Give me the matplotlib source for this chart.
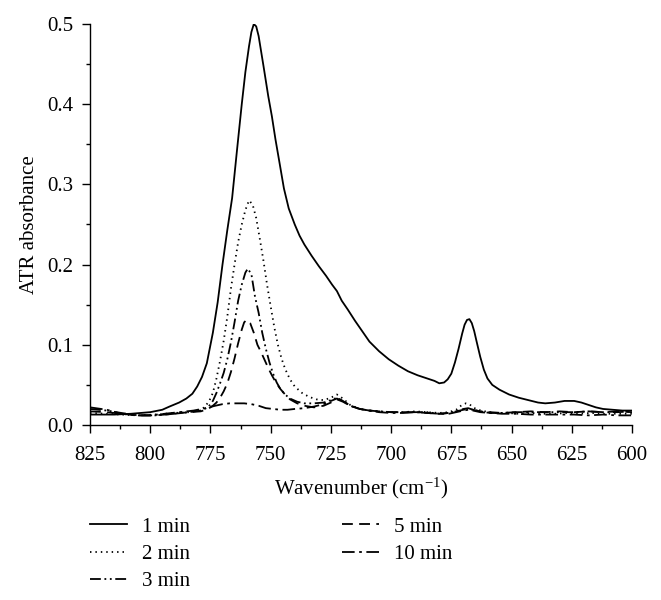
import matplotlib
matplotlib.use("Agg")
import matplotlib.pyplot as plt
import numpy as np
from matplotlib.ticker import MultipleLocator

plt.rcParams["font.family"] = "Liberation Serif"
plt.rcParams["mathtext.fontset"] = "custom"
plt.rcParams["mathtext.rm"] = "Liberation Serif"
plt.rcParams["mathtext.it"] = "Liberation Serif:italic"

# ── Spectra: (wavenumber cm-1, ATR absorbance) ──────────────────────────
spec_1min = [
    (825, 0.013), (815, 0.013), (808, 0.014), (800, 0.016), (795, 0.019),
    (792, 0.023), (788, 0.028), (785, 0.033), (782.5, 0.039), (780.5, 0.048),
    (778.5, 0.060), (776.5, 0.077), (774, 0.115), (772, 0.153), (770, 0.200),
    (768, 0.243), (766, 0.283), (764, 0.342), (762, 0.400), (760.5, 0.440),
    (759, 0.472), (758, 0.490), (757, 0.500), (756, 0.497), (755, 0.485),
    (753, 0.448), (751, 0.410), (749.5, 0.385), (748, 0.356), (746.5, 0.330),
    (744.5, 0.295), (742.5, 0.270), (740, 0.250), (738, 0.236), (736, 0.225),
    (733, 0.211), (730, 0.198), (727, 0.186), (724.5, 0.175), (722.5, 0.167),
    (720.5, 0.155), (718, 0.144), (715, 0.130), (712, 0.117), (709, 0.104),
    (705, 0.092), (701, 0.082), (697, 0.074), (693, 0.067), (689, 0.062),
    (685, 0.058), (682, 0.055), (680, 0.052), (678, 0.053), (676.5, 0.057),
    (675, 0.064), (673.5, 0.078), (672, 0.095), (670.5, 0.114), (669.5, 0.125),
    (668.5, 0.131), (667.5, 0.132), (666.5, 0.127), (665.5, 0.117), (664.5, 0.104),
    (663, 0.085), (661.5, 0.069), (660, 0.058), (658, 0.050), (655, 0.044),
    (651, 0.038), (647, 0.034), (643, 0.031), (639, 0.028), (636, 0.027),
    (632, 0.028), (628, 0.030), (624, 0.030), (621, 0.028), (618, 0.025),
    (615, 0.022), (612, 0.020), (608, 0.019), (604, 0.018), (600, 0.018),
]

spec_2min = [
    (825, 0.015), (818, 0.014), (812, 0.013), (805, 0.012), (798, 0.013),
    (790, 0.015), (784, 0.016), (780, 0.018), (777.5, 0.022), (775.5, 0.030),
    (774, 0.040), (772.5, 0.058), (771, 0.080), (769.5, 0.105), (768, 0.135),
    (766.5, 0.170), (765, 0.200), (763.5, 0.228), (762, 0.250), (760.5, 0.268),
    (759, 0.280), (757.5, 0.275), (756, 0.258), (754.5, 0.232), (753, 0.205),
    (751.5, 0.175), (750, 0.148), (748.5, 0.122), (747, 0.100), (745.5, 0.083),
    (744, 0.070), (742, 0.057), (740, 0.048), (737, 0.040), (734, 0.035),
    (731, 0.032), (728, 0.031), (725, 0.034), (722.5, 0.038), (720, 0.033),
    (717, 0.025), (713, 0.020), (709, 0.018), (705, 0.017), (700, 0.016),
    (695, 0.016), (690, 0.017), (685, 0.016), (680, 0.015), (676, 0.016),
    (673, 0.019), (671, 0.024), (669, 0.027), (667.5, 0.026), (666, 0.022),
    (664, 0.019), (661, 0.017), (657, 0.015), (652, 0.015), (647, 0.014),
    (642, 0.015), (637, 0.014), (632, 0.014), (627, 0.015), (622, 0.014),
    (617, 0.015), (612, 0.014), (606, 0.014), (600, 0.014),
]

spec_3min = [
    (825, 0.020), (818, 0.018), (812, 0.015), (805, 0.012), (798, 0.012),
    (790, 0.014), (784, 0.016), (779, 0.018), (776, 0.022), (774, 0.030),
    (772.5, 0.040), (771, 0.052), (769.5, 0.065), (768, 0.082), (766.5, 0.103),
    (765, 0.128), (763.5, 0.155), (762, 0.175), (760.5, 0.190), (759.5, 0.195),
    (758, 0.188), (756.5, 0.160), (755, 0.140), (753.5, 0.115), (752, 0.095),
    (750.5, 0.078), (749, 0.064), (747.5, 0.053), (746, 0.045), (744, 0.038),
    (742, 0.033), (739, 0.029), (736, 0.027), (732, 0.027), (728, 0.028),
    (725, 0.031), (722.5, 0.034), (720, 0.030), (717, 0.024), (713, 0.020),
    (709, 0.018), (705, 0.017), (700, 0.016), (695, 0.016), (690, 0.016),
    (685, 0.016), (680, 0.014), (676, 0.015), (673, 0.017), (670, 0.020),
    (668, 0.021), (666, 0.019), (663, 0.017), (659, 0.015), (654, 0.015),
    (648, 0.016), (642, 0.016), (636, 0.016), (630, 0.016), (624, 0.016),
    (618, 0.017), (612, 0.016), (606, 0.016), (600, 0.017),
]

spec_5min = [
    (825, 0.017), (818, 0.016), (812, 0.014), (805, 0.012), (798, 0.012),
    (790, 0.014), (784, 0.016), (779, 0.017), (776, 0.020), (774, 0.024),
    (772.5, 0.028), (771, 0.034), (769.5, 0.042), (768, 0.052), (766.5, 0.066),
    (765, 0.083), (763.5, 0.102), (762, 0.119), (761, 0.128), (760, 0.131),
    (758.5, 0.127), (757, 0.115), (755.5, 0.100), (754, 0.091), (752.5, 0.081),
    (751, 0.071), (749.5, 0.062), (748, 0.054), (746, 0.045), (744, 0.038),
    (742, 0.032), (739, 0.027), (736, 0.024), (732, 0.022), (728, 0.024),
    (725, 0.028), (722.5, 0.032), (720, 0.029), (717, 0.024), (713, 0.020),
    (709, 0.018), (705, 0.017), (700, 0.016), (695, 0.016), (690, 0.016),
    (685, 0.015), (680, 0.014), (676, 0.015), (673, 0.017), (670, 0.019),
    (668, 0.020), (666, 0.019), (663, 0.017), (659, 0.016), (654, 0.015),
    (648, 0.016), (642, 0.017), (636, 0.016), (630, 0.017), (624, 0.016),
    (618, 0.017), (612, 0.016), (606, 0.017), (600, 0.016),
]

spec_10min = [
    (825, 0.022), (818, 0.019), (812, 0.014), (806, 0.012), (800, 0.012),
    (794, 0.014), (788, 0.016), (782, 0.018), (777, 0.021), (773, 0.024),
    (770, 0.026), (767, 0.027), (764, 0.027), (761, 0.027), (758, 0.026),
    (755, 0.024), (752, 0.021), (749, 0.020), (746, 0.019), (743, 0.019),
    (740, 0.020), (736, 0.021), (732, 0.023), (728, 0.026), (725, 0.030),
    (722.5, 0.033), (720, 0.030), (717, 0.024), (713, 0.020), (709, 0.018),
    (705, 0.016), (700, 0.015), (695, 0.015), (690, 0.016), (685, 0.015),
    (680, 0.014), (676, 0.014), (673, 0.016), (670, 0.018), (668, 0.019),
    (666, 0.018), (663, 0.016), (659, 0.015), (654, 0.014), (648, 0.014),
    (642, 0.013), (636, 0.013), (630, 0.013), (624, 0.013), (618, 0.012),
    (612, 0.013), (606, 0.012), (600, 0.012),
]

labels = ["1 min", "2 min", "3 min", "5 min", "10 min"]
spectra = [spec_1min, spec_2min, spec_3min, spec_5min, spec_10min]
styles = [
    "-",
    (0, (0.8, 2.2)),
    (0, (6, 2, 1, 2, 1, 2)),
    (0, (6, 3.5)),
    (0, (7, 2.5, 1.5, 2.5)),
]

FS = 15

fig = plt.figure(figsize=(6.61, 6.00), dpi=100)
ax = fig.add_axes([90 / 661, 1 - 425 / 600, 542 / 661, 401 / 600])

for spec, lab, ls in zip(spectra, labels, styles):
    wn, ab = np.array(spec).T
    ax.plot(wn, ab, color="black", linestyle=ls, linewidth=1.3, label=lab)

ax.set_xlim(825, 600)
ax.set_ylim(0, 0.5)
ax.xaxis.set_major_locator(MultipleLocator(25))
ax.xaxis.set_minor_locator(MultipleLocator(12.5))
ax.yaxis.set_major_locator(MultipleLocator(0.1))
ax.yaxis.set_minor_locator(MultipleLocator(0.05))
ax.yaxis.set_major_formatter(plt.FuncFormatter(lambda v, _: f"{v:.1f}"))

for side in ("top", "right"):
    ax.spines[side].set_visible(False)
for side in ("left", "bottom"):
    ax.spines[side].set_linewidth(1.0)

ax.tick_params(which="major", direction="out", length=5.8, width=1.0,
               labelsize=FS)
ax.tick_params(which="minor", direction="out", length=3, width=1.0)
ax.tick_params(axis="x", which="major", pad=9)
ax.tick_params(axis="y", which="major", pad=6.5)

ax.set_xlabel("Wavenumber (cm$^{-1}$)", fontsize=FS, labelpad=8)
ax.set_ylabel("ATR absorbance", fontsize=FS, labelpad=5.5)

fig.legend(
    loc="upper left", bbox_to_anchor=(90 / 661, 1 - 517 / 600),
    ncol=2, frameon=False, fontsize=FS, handlelength=1.78,
    handletextpad=0.7, columnspacing=7.3, labelspacing=0.37,
    borderpad=0, borderaxespad=0,
)

fig.savefig("out.png", dpi=100)
